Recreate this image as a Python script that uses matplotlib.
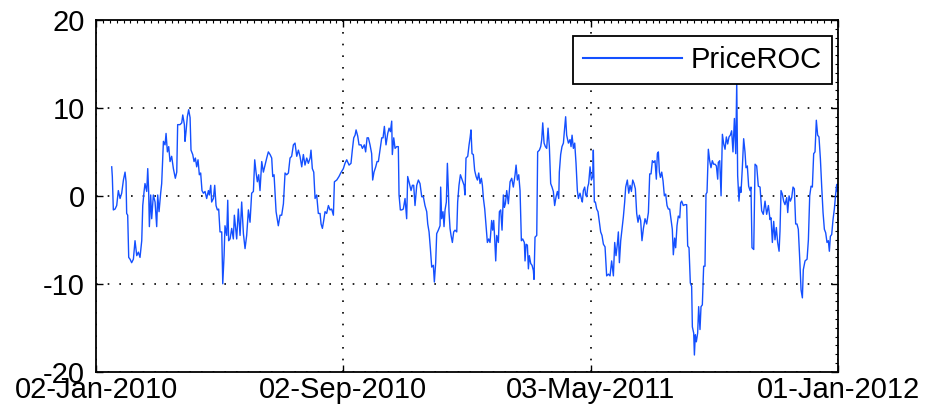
import datetime as dt
import numpy as np
import matplotlib
matplotlib.use('Agg')
import matplotlib.pyplot as plt
import matplotlib.dates as mdates
from matplotlib.ticker import FixedLocator, MultipleLocator

# ── data ──────────────────────────────────────────────────────────────────────
START = dt.datetime(2010, 1, 2)

# days after 02-Jan-2010
day_offsets = [
    15.4, 16.0, 17.0, 18.7, 20.3, 21.9, 23.6, 25.2, 26.9, 28.5, 29.5, 30.1, 31.1, 32.1,
    33.4, 35.0, 36.7, 38.3, 40.0, 41.6, 43.2, 44.9, 45.9, 47.2, 48.1, 49.8, 50.8, 51.7,
    52.4, 53.7, 54.7, 56.3, 58.0, 59.6, 60.6, 61.9, 63.5, 64.5, 66.2, 67.8, 68.8, 70.1,
    71.4, 72.7, 74.3, 76.0, 77.9, 79.3, 80.2, 82.5, 84.2, 85.2, 86.8, 87.4, 88.4, 89.7,
    91.0, 92.4, 93.3, 95.0, 96.3, 97.6, 98.9, 100.2, 101.5, 102.8, 104.1, 105.5, 107.1,
    108.7, 110.4, 111.3, 112.7, 113.6, 115.3, 116.6, 117.9, 119.2, 120.5, 121.8, 123.5,
    124.5, 125.8, 126.7, 128.4, 129.4, 130.3, 131.7, 133.3, 134.9, 135.9, 137.2, 138.2,
    139.8, 141.5, 143.1, 144.8, 146.4, 148.0, 149.7, 151.3, 152.9, 154.6, 155.9, 157.2,
    158.5, 159.8, 161.1, 162.8, 164.4, 166.0, 167.7, 169.3, 171.0, 172.6, 173.6, 174.9,
    176.9, 179.1,
    180.8, 182.4, 184.1, 185.7, 187.3, 189.0, 190.6, 192.2, 193.9, 195.5, 197.2, 198.8,
    200.4, 202.1, 203.7, 205.3, 207.0, 208.6, 210.3, 211.2, 212.5, 213.9, 215.2, 216.8,
    218.4, 220.1, 221.1, 222.4, 223.7, 225.0, 226.6, 228.3, 229.9, 231.5, 233.2, 234.2,
    236.5, 238.7, 240.4, 242.0, 243.0, 244.6, 246.3, 248.6, 250.5, 251.8, 253.2, 254.5,
    255.5, 257.1, 258.4, 260.4, 261.7, 263.6, 264.9, 266.3, 267.6, 269.2, 270.8, 271.8,
    273.1, 274.8, 276.1, 277.4, 279.0, 280.7, 282.0, 283.3, 284.9, 286.6, 287.9, 289.2,
    290.5, 291.1, 292.5, 293.8, 295.4, 297.0, 297.7, 299.0, 300.3, 301.9, 303.6, 305.2,
    306.2, 307.5, 309.5, 310.8, 312.1, 313.4, 315.1, 316.7, 318.3, 320.0, 321.6, 323.2,
    324.9, 325.9, 327.2, 328.5, 329.8, 331.4, 332.4, 333.7, 334.7, 336.3, 338.0, 338.6,
    339.6, 340.9, 341.9, 342.9, 344.2, 345.2, 346.2, 346.8, 347.8, 348.8, 350.1, 351.4,
    352.7, 354.4, 355.3, 356.6, 358.0,
    361.6, 362.5, 363.5, 365.2, 366.5, 367.5, 368.4, 369.4, 370.7, 372.0, 373.4, 374.7,
    376.0, 377.3, 378.6, 379.6, 380.6, 381.9, 383.2, 384.5, 385.8, 387.1, 388.7, 389.7,
    390.7, 391.7, 392.7, 393.7, 395.3, 396.3, 397.6, 398.9, 400.2, 401.2, 402.2, 403.5,
    405.1, 406.8, 408.4, 410.0, 411.7, 412.7, 414.0, 415.3, 416.6, 417.9, 419.2, 420.8,
    421.5, 422.5, 423.8, 424.8, 425.7, 427.1, 428.4, 429.7, 430.3, 431.3, 433.0, 433.9,
    435.6, 436.9, 437.9, 438.9, 440.2, 441.5, 442.8, 444.1, 445.4, 446.7, 448.0, 449.3,
    450.6, 452.0, 453.3, 454.6, 455.2, 456.5, 457.8, 459.2, 460.1, 461.4, 462.4, 464.1,
    465.7, 466.7, 467.7, 469.0, 470.3, 471.6, 472.9, 473.9, 475.5, 476.8, 477.8, 478.8,
    480.1, 481.1, 482.1, 483.1, 484.0, 485.4, 486.7, 488.0, 488.6, 489.6, 490.6, 491.9,
    493.2, 494.5, 495.8, 497.1, 498.5, 500.1, 501.7, 503.4, 505.0, 506.6, 508.3, 509.6,
    510.9, 512.2, 513.2, 514.2, 515.5, 516.8, 518.1, 519.4, 520.4, 522.0, 523.4, 524.7,
    526.0, 527.3, 528.6, 529.9, 531.2, 532.5, 533.8, 535.1, 536.4, 537.8, 539.4, 541.0,
    542.7, 544.0, 545.3, 546.6, 547.9, 549.2, 550.5, 551.5, 552.5, 553.5, 554.5, 555.8,
    557.1, 558.4, 559.7, 561.0, 562.3, 563.6, 564.9, 566.2, 567.2, 568.5, 569.5, 570.8,
    572.1, 573.5, 574.4, 575.4, 577.0, 578.7, 580.3, 581.3, 582.6, 583.9, 585.2, 585.9,
    587.2, 587.9, 588.8, 589.8, 591.1, 592.1, 593.4, 594.4, 595.7, 597.0, 598.3, 599.3,
    600.3, 601.6, 602.9, 604.2, 605.5, 606.8, 608.2, 609.5, 610.8, 611.4, 612.8, 614.1,
    615.4, 616.7, 618.0, 619.3, 620.6, 621.9, 623.2, 624.5, 625.8, 627.2, 628.5, 629.5,
    630.4, 631.7, 632.7, 633.7, 635.0, 636.3, 637.6, 638.6, 639.9, 641.2, 642.6, 643.5,
    644.5, 646.2, 647.5, 649.1, 650.7, 652.4, 654.0, 655.6, 657.3, 658.9, 660.6, 662.2,
    663.2, 664.5, 665.8, 667.1, 668.4, 669.7, 671.1, 672.0, 673.0, 674.3, 675.6, 676.9,
    678.6, 679.6, 680.9, 682.2, 683.5, 684.8, 686.1, 687.4, 688.7, 690.0, 691.4, 692.7,
    694.0, 694.9, 696.6, 698.6, 699.9, 701.2, 702.5, 703.8, 705.1, 706.4, 707.7, 709.0,
    710.3, 711.7, 713.0, 714.3, 715.6, 716.9, 718.2, 719.5, 720.5, 721.5, 722.8, 724.1,
    725.4, 726.7, 727.7, 728.4,
]

price_roc = [
    3.3, 2.2, -1.6, -1.5, -1.1, 0.6, -0.3, 0.3, 1.8, 2.7, 1.6, -2.0, -2.2, -7.0,
    -7.2, -7.6, -7.2, -5.1, -6.8, -6.4, -7.0, -5.1, -1.1, 0.5, 1.4, 0.5, 3.1, 0.5,
    -3.5, 0.1, -2.6, 0.1, -0.7, -3.5, 0.1, -1.8, 0.3, 1.4, 6.2, 5.8, 7.1, 5.0,
    5.6, 3.9, 4.5, 3.1, 2.0, 2.7, 8.1, 8.1, 8.3, 9.2, 8.1, 6.2, 7.3, 9.0,
    9.8, 8.9, 5.2, 4.7, 3.9, 4.3, 3.3, 4.1, 2.4, 2.6, 0.6, 0.3, 0.5,
    -0.3, 0.6, 0.1, 1.2, -0.7, -0.3, 1.2, -1.1, -1.6, -1.5, -4.1, -4.1,
    -10.0, -6.8, -3.4, -4.5, -0.5, -5.1, -4.9, -3.7, -4.9, -2.2, -3.7, -4.9,
    -1.5, -4.5, -0.7, -4.3, -6.0, -4.5, -1.6, -3.0, 0.3, 0.5, 4.1, 2.7,
    1.6, 2.4, 0.6, 3.9, 2.7, 3.5, 4.3, 5.0, 4.7, 4.3, 2.2, 2.4,
    -1.8, -3.4,
    -2.2, -2.2, -0.9, 2.6, 2.4, 2.6, 4.3, 4.5, 5.8, 6.0, 4.5, 5.2,
    4.5, 3.3, 4.7, 3.5, 4.3, 3.7, 4.3, 5.2, 3.1, 2.7, -0.3, 0.1,
    -2.0, -2.0, -3.2, -3.7, -2.8, -1.8, -2.0, -1.1, -1.6, -1.5, -2.2, 1.6,
    1.8, 2.2, 2.6, 2.9, 3.1, 3.7, 4.1, 3.5, 3.7, 5.2, 6.6, 6.9,
    7.5, 6.8, 5.8, 5.8, 5.4, 5.8, 5.0, 6.6, 6.6, 5.8, 4.8, 1.8,
    2.7, 3.3, 3.9, 3.9, 5.2, 6.6, 6.6, 7.9, 5.8, 7.1, 7.7, 7.3,
    8.5, 4.7, 6.6, 5.4, 5.6, 5.6, 0.1, -1.6, -1.6, -1.5, -0.3, -2.6,
    2.2, 1.6, 0.6, 1.2, 1.2, -1.1, 1.2, 1.8, 1.4, -0.1, -0.1, -1.1,
    -1.8, -3.2, -4.1, -6.0, -8.1, -7.9, -9.8, -7.6, -4.3, -3.9, -3.4, 1.0,
    -2.6, -1.8, -3.5, -1.6, -0.7, 3.7, 0.6, -1.8, -3.7, -4.5, -5.3, -4.1,
    -3.9, -4.1, -0.7, 1.2, 2.4,
    1.2, 0.1, 4.3, 4.5, 5.8, 6.6, 7.5, 4.8, 4.7, 2.9, 2.2, 1.8,
    2.6, 1.4, 2.0, 1.2, -0.3, -1.5, -3.4, -5.3, -4.9, -5.3, -2.8, -3.9,
    -2.8, -4.9, -7.4, -4.5, -5.3, -1.8, -1.6, -3.9, 0.1, -1.3, -0.9, 0.6,
    -0.9, 1.6, 2.0, 1.0, 2.4, 3.5, 1.8, 2.4, 0.6, -5.1, -4.9, -5.3,
    -7.4, -5.5, -5.6, -8.3, -6.8, -7.7, -7.9, -8.5, -9.5, -4.7, -4.5, 5.0,
    5.2, 5.6, 6.4, 8.3, 6.0, 5.6, 5.4, 7.7, 5.6, 1.4, 1.0, 0.5,
    -1.1, -0.1, 0.5, -0.3, 2.7, 4.7, 5.6, 6.0, 7.3, 9.0, 6.9, 6.0,
    6.4, 5.6, 6.9, 5.4, 6.0, 3.7, 0.6, -0.3, 0.3, -0.3, -0.7, 0.6,
    1.0, 0.1, -0.1, 1.0, 1.4, 3.3, 1.8, 2.2, 5.2, -0.7, -0.7, -1.5,
    -1.8, -3.0, -4.1, -4.5, -5.5, -5.8, -9.1, -8.9, -9.1, -7.4, -9.1, -5.3,
    -6.8, -5.5, -4.1, -7.6, -5.1, -3.7, -2.4, -0.7, 1.0, 1.8, 0.3, 1.2,
    0.5, 1.8, 1.4, 0.8, -2.0, -3.0, -2.2, -2.8, -5.1, -3.7, -2.6, -3.2,
    -1.9, 2.5, 2.5, 4.0, 3.8, 4.0, 1.9, 4.8, 5.0, 2.7, 2.1, 2.7,
    1.7, 0.0, 0.2, -1.1, -1.5, -1.5, -2.7, -3.8, -6.7, -4.8, -5.9, -3.4,
    -2.3, -2.5, -0.8, -0.6, -1.1, -1.0, -1.0, -5.7, -5.9, -9.9, -10.3, -14.9,
    -15.6, -18.1, -15.8, -16.6, -15.6, -12.6, -15.2, -12.6, -12.4, -8.0, -8.0, 0.2,
    0.4, 5.3, 4.0, 3.2, 4.0, 3.6, 3.6, 3.4, 1.9, 3.8, 4.0, 0.0,
    7.0, 5.9, 5.3, 6.7, 5.9, 6.7, 6.9, 7.4, 5.0, 8.8, 4.8, 13.0,
    2.3, -0.6, 1.0, 0.4, 3.2, 6.5, 5.0, 3.2, 3.4, 1.1, 0.6, 1.0,
    -5.9, -6.1, 3.6, 3.4, 1.1, 1.0, -1.7, -2.1, -0.6, -2.1, -1.1, -2.7,
    -2.5, -5.3, -2.9, -5.0, -3.6, -5.3, -6.3, -4.0, 0.6, 0.2, -0.6, -1.0,
    -0.2, -1.9, 0.0, -0.6, -0.2, 1.0, 0.8, -3.2, -3.2, -3.8, -7.2, -10.7,
    -11.6, -8.4, -7.4, -7.2, -5.0, 0.0, 1.1, 1.0, 4.8, 5.0, 8.6, 6.9,
    6.7, 4.2, 1.0, -1.9, -3.8, -4.2, -5.3, -5.1, -6.3, -4.6, -4.4, -2.7,
    -1.5, 0.2, 1.3, 0.5,
]

tick_days = [0, 243, 486, 729]
tick_labels = ['02-Jan-2010', '02-Sep-2010', '03-May-2011', '01-Jan-2012']
y_ticks = [-20, -10, 0, 10, 20]

LINE_BLUE = '#1450ff'
FONT = 'Liberation Sans'

plt.rcParams['font.family'] = [FONT, 'DejaVu Sans']
plt.rcParams['axes.unicode_minus'] = False   # MATLAB uses a plain hyphen

t0 = mdates.date2num(START)
x = t0 + np.asarray(day_offsets)
tick_x = [t0 + d for d in tick_days]

fig = plt.figure(figsize=(9.27, 4.15), dpi=100)
ax = fig.add_axes([0.1036, 0.1043, 0.8004, 0.8475])

ax.plot(x, price_roc, color=LINE_BLUE, lw=1.0, label='PriceROC')

ax.set_xlim(tick_x[0], tick_x[-1])
ax.set_ylim(-20, 20)
ax.set_xticks(tick_x)
ax.set_xticklabels(tick_labels)
ax.set_yticks(y_ticks)

# MATLAB-ish minor ticks only on the top/right edges
ax.xaxis.set_minor_locator(FixedLocator(np.arange(tick_x[0], tick_x[-1], 243 / 36)))
ax.yaxis.set_minor_locator(MultipleLocator(1))

ax.tick_params(which='major', direction='in', length=5, width=1.0,
               top=True, right=True, labelsize=21, colors='black')
ax.tick_params(axis='y', which='major', pad=8)
ax.tick_params(axis='x', which='major', pad=3)
ax.tick_params(which='minor', direction='in', length=2.5, width=0.8,
               top=True, right=True, bottom=False, left=False)

ax.grid(True, which='major', color='black', lw=1.2, linestyle=(0, (1, 6)))
for sp in ax.spines.values():
    sp.set_linewidth(1.3)
    sp.set_color('black')

leg = ax.legend(loc='upper right', bbox_to_anchor=(0.992, 0.9545), borderaxespad=0,
                fontsize=21, frameon=True, fancybox=False, handlelength=3.4,
                handletextpad=0.3, borderpad=0.35)
leg.get_frame().set_edgecolor('black')
leg.get_frame().set_linewidth(1.3)
leg.get_frame().set_alpha(1)
for h in leg.get_lines():
    h.set_linewidth(1.5)

fig.savefig('out.png', dpi=100)
